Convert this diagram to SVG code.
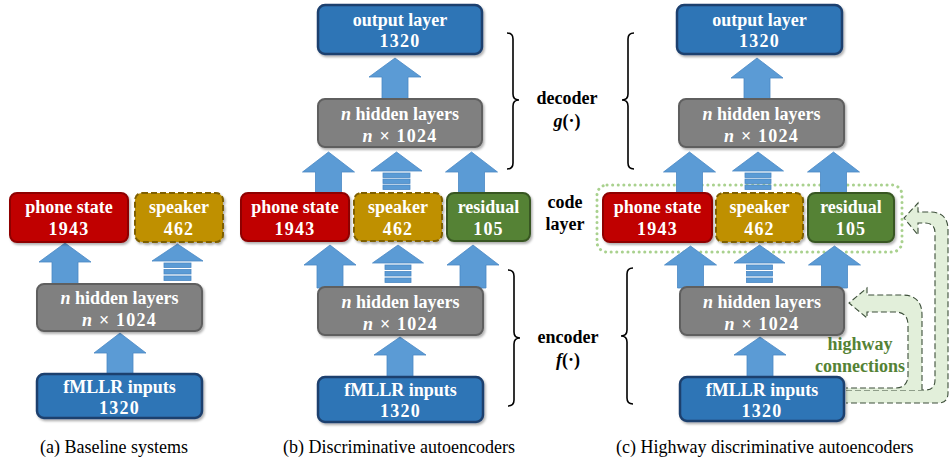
<svg xmlns="http://www.w3.org/2000/svg" width="949" height="463" viewBox="0 0 949 463">
<defs>
<filter id="sh" x="-10%" y="-10%" width="125%" height="130%">
<feDropShadow dx="1.5" dy="2" stdDeviation="1.2" flood-color="#000" flood-opacity="0.3"/>
</filter>
<style>
.t{font-family:"Liberation Serif","Times New Roman",serif;font-weight:bold;font-size:18px;fill:#fff;text-anchor:middle}
.num{letter-spacing:1.2px}
.lbl{font-family:"Liberation Serif","Times New Roman",serif;font-weight:bold;font-size:18px;fill:#000;text-anchor:middle}
.cap{font-family:"Liberation Serif","Times New Roman",serif;font-size:18px;fill:#000}
.hw{font-family:"Liberation Serif","Times New Roman",serif;font-weight:bold;font-size:18px;fill:#548235;text-anchor:middle}
.red{fill:#c00000;stroke:#8e0000;stroke-width:2;filter:url(#sh)}
.gold{fill:#bf9000;stroke:#7f6000;stroke-width:2;stroke-dasharray:6 3;filter:url(#sh)}
.green{fill:#548235;stroke:#385723;stroke-width:2;filter:url(#sh)}
.gray{fill:#808080;stroke:#5f5f5f;stroke-width:2;filter:url(#sh)}
.blue{fill:#2e75b6;stroke:#1f3f6e;stroke-width:2.5;filter:url(#sh)}
.arr{fill:#5b9bd5;stroke:#4a88c4;stroke-width:0.8}
.brace{fill:none;stroke:#000;stroke-width:1.6}
.hwa{fill:#e2efda;stroke:none}
.hwl{fill:none;stroke:#3d4f3a;stroke-width:1.1;stroke-dasharray:6 3}
.dot{fill:none;stroke:#a9d18e;stroke-width:3;stroke-dasharray:0.1 5.5;stroke-linecap:round}
</style>
</defs>

<!-- code layer grouping (c) -->
<g id="c_codebox">
<rect class="dot" x="597" y="185" width="305" height="67" rx="10"/>
</g>

<!-- connectors -->
<g id="connectors">
<!-- (a) -->
<path class="arr" d="M65,243 L91,262 L78,262 L78,285 L52,285 L52,262 L39,262 Z"/>
<g>
<path class="arr" d="M177.5,244 L203,261 L152,261 Z"/>
<rect class="arr" x="164" y="263" width="27" height="4.5"/>
<rect class="arr" x="164" y="269.5" width="27" height="4.5"/>
<rect class="arr" x="164" y="276" width="27" height="4.5"/>
</g>
<path class="arr" d="M120,333 L146,353 L133,353 L133,375 L107,375 L107,353 L94,353 Z"/>
<!-- (b) -->
<path class="arr" d="M395,58 L421,77 L408,77 L408,100 L382,100 L382,77 L369,77 Z"/>
<path class="arr" d="M328.5,152 L354.5,172 L341.5,172 L341.5,194 L315.5,194 L315.5,172 L302.5,172 Z"/>
<g>
<path class="arr" d="M396.5,152 L422,171 L371,171 Z"/>
<rect class="arr" x="383" y="173" width="27" height="4.5"/>
<rect class="arr" x="383" y="179" width="27" height="4.5"/>
<rect class="arr" x="383" y="185" width="27" height="4.5"/>
</g>
<path class="arr" d="M471.5,152 L497.5,172 L484.5,172 L484.5,194 L458.5,194 L458.5,172 L445.5,172 Z"/>
<path class="arr" d="M330,245 L356,265 L343,265 L343,288 L317,288 L317,265 L304,265 Z"/>
<g>
<path class="arr" d="M398,245 L423.5,263 L372.5,263 Z"/>
<rect class="arr" x="385" y="265" width="26" height="4.5"/>
<rect class="arr" x="385" y="271.5" width="26" height="4.5"/>
<rect class="arr" x="385" y="278" width="26" height="4.5"/>
</g>
<path class="arr" d="M473,245 L499,265 L486,265 L486,288 L460,288 L460,265 L447,265 Z"/>
<path class="arr" d="M400,337 L426,355 L413,355 L413,378 L387,378 L387,355 L374,355 Z"/>
<!-- (c) -->
<path class="arr" d="M757,58 L783,78 L770,78 L770,100 L744,100 L744,78 L731,78 Z"/>
<path class="arr" d="M689.5,152 L715.5,172 L702.5,172 L702.5,194 L676.5,194 L676.5,172 L663.5,172 Z"/>
<g>
<path class="arr" d="M758,152 L783.5,171 L732.5,171 Z"/>
<rect class="arr" x="745" y="173" width="26" height="4.5"/>
<rect class="arr" x="745" y="179" width="26" height="4.5"/>
<rect class="arr" x="745" y="185" width="26" height="4.5"/>
</g>
<path class="arr" d="M833.5,152 L859.5,172 L846.5,172 L846.5,194 L820.5,194 L820.5,172 L807.5,172 Z"/>
<path class="arr" d="M690.5,246 L716.5,265 L703.5,265 L703.5,288 L677.5,288 L677.5,265 L664.5,265 Z"/>
<g>
<path class="arr" d="M759.5,245 L785,263 L734,263 Z"/>
<rect class="arr" x="746.5" y="265" width="26" height="4.5"/>
<rect class="arr" x="746.5" y="271.5" width="26" height="4.5"/>
<rect class="arr" x="746.5" y="278" width="26" height="4.5"/>
</g>
<path class="arr" d="M834.5,246 L860.5,265 L847.5,265 L847.5,288 L821.5,288 L821.5,265 L808.5,265 Z"/>
<path class="arr" d="M760,337 L786,355 L773,355 L773,378 L747,378 L747,355 L734,355 Z"/>
<!-- highway connections -->
<g id="highway">
<path class="hwa" d="M846,390 L925,390 Q935,390 935,380 L935,233 Q935,223 925,223 L918,223 L918,235 L904,218 L918,203 L918,212 L930,212 Q948,212 948,230 L948,393 Q948,403 938,403 L846,403 Z"/>
<path class="hwl" d="M846,390 L925,390 Q935,390 935,380 L935,233 Q935,223 925,223 L918,223 L918,235 L904,218 L918,203 L918,212 L930,212 Q948,212 948,230 L948,393 Q948,403 938,403 L846,403"/>
<path class="hwa" d="M846,388 L895,388 Q908,388 908,375 L908,325 Q908,312 895,312 L867,312 L867,318 L849,303 L867,288 L867,295 L902,295 Q922,295 922,315 L922,390 L846,390 Z"/>
<path class="hwl" d="M922,390 L922,315 Q922,295 902,295 L867,295 L867,288 L849,303 L867,318 L867,312 L895,312 Q908,312 908,325 L908,375 Q908,388 895,388 L846,388"/>
</g>
</g>

<!-- braces and labels -->
<g id="b_decoder_brace">
<path class="brace" d="M507,33 Q513,33 513,39 L513,94 Q513,100 519,100 Q513,100 513,106 L513,163 Q513,169 507,169"/>
<text class="lbl" x="567" y="104">decoder</text>
<text class="lbl" x="567" y="127"><tspan font-style="italic">g</tspan>(·)</text>
</g>
<g id="b_encoder_brace">
<path class="brace" d="M508,270 Q514,270 514,276 L514,332 Q514,338 520,338 Q514,338 514,344 L514,400 Q514,406 508,406"/>
<text class="lbl" x="568" y="343">encoder</text>
<text class="lbl" x="568" y="366"><tspan font-style="italic">f</tspan>(·)</text>
</g>
<g id="code_label">
<text class="lbl" x="565" y="208">code</text>
<text class="lbl" x="565" y="230">layer</text>
</g>
<g id="c_decoder_brace">
<path class="brace" d="M634,33 Q628,33 628,39 L628,94 Q628,100 622,100 Q628,100 628,106 L628,163 Q628,169 634,169"/>
</g>
<g id="c_encoder_brace">
<path class="brace" d="M633,268 Q627,268 627,274 L627,330 Q627,336 621,336 Q627,336 627,342 L627,398 Q627,404 633,404"/>
</g>
<g id="highway_label">
<text class="hw" x="860" y="350">highway</text>
<text class="hw" x="860" y="372">connections</text>
</g>

<!-- (a) nodes -->
<g id="a_phone"><rect class="red" x="10" y="193" width="118" height="49" rx="7"/>
<text class="t" x="69" y="213">phone state</text><text class="t num" x="69" y="235">1943</text></g>
<g id="a_speaker"><rect class="gold" x="135" y="193" width="88" height="49" rx="7"/>
<text class="t" x="179" y="213">speaker</text><text class="t num" x="179" y="235">462</text></g>
<g id="a_hidden"><rect class="gray" x="37" y="284" width="165" height="47" rx="7"/>
<text class="t" x="119.5" y="304"><tspan font-style="italic">n</tspan> hidden layers</text><text class="t num" x="119.5" y="326"><tspan font-style="italic">n</tspan> × 1024</text></g>
<g id="a_input"><rect class="blue" x="37" y="374" width="165" height="44" rx="7"/>
<text class="t" x="119.5" y="393">fMLLR inputs</text><text class="t num" x="119.5" y="414">1320</text></g>

<!-- (b) nodes -->
<g id="b_output"><rect class="blue" x="318" y="5" width="164" height="49" rx="7"/>
<text class="t" x="400" y="26">output layer</text><text class="t num" x="400" y="47">1320</text></g>
<g id="b_dec_hidden"><rect class="gray" x="318" y="99" width="164" height="48" rx="7"/>
<text class="t" x="400" y="120"><tspan font-style="italic">n</tspan> hidden layers</text><text class="t num" x="400" y="142"><tspan font-style="italic">n</tspan> × 1024</text></g>
<g id="b_phone"><rect class="red" x="241" y="193" width="108" height="48" rx="7"/>
<text class="t" x="295" y="213">phone state</text><text class="t num" x="295" y="235">1943</text></g>
<g id="b_speaker"><rect class="gold" x="354" y="193" width="88" height="48" rx="7"/>
<text class="t" x="398" y="213">speaker</text><text class="t num" x="398" y="235">462</text></g>
<g id="b_residual"><rect class="green" x="447" y="193" width="83" height="48" rx="7"/>
<text class="t" x="488.5" y="213">residual</text><text class="t num" x="488.5" y="235">105</text></g>
<g id="b_enc_hidden"><rect class="gray" x="318" y="287" width="165" height="48" rx="7"/>
<text class="t" x="400.5" y="308"><tspan font-style="italic">n</tspan> hidden layers</text><text class="t num" x="400.5" y="330"><tspan font-style="italic">n</tspan> × 1024</text></g>
<g id="b_input"><rect class="blue" x="318" y="377" width="165" height="45" rx="7"/>
<text class="t" x="400.5" y="396">fMLLR inputs</text><text class="t num" x="400.5" y="417">1320</text></g>

<!-- (c) nodes -->
<g id="c_output"><rect class="blue" x="677" y="5" width="165" height="49" rx="7"/>
<text class="t" x="759.5" y="26">output layer</text><text class="t num" x="759.5" y="47">1320</text></g>
<g id="c_dec_hidden"><rect class="gray" x="679" y="99" width="165" height="48" rx="7"/>
<text class="t" x="761.5" y="120"><tspan font-style="italic">n</tspan> hidden layers</text><text class="t num" x="761.5" y="142"><tspan font-style="italic">n</tspan> × 1024</text></g>
<g id="c_phone"><rect class="red" x="603" y="193" width="109" height="49" rx="7"/>
<text class="t" x="657.5" y="213">phone state</text><text class="t num" x="657.5" y="235">1943</text></g>
<g id="c_speaker"><rect class="gold" x="716" y="193" width="87" height="49" rx="7"/>
<text class="t" x="759.5" y="213">speaker</text><text class="t num" x="759.5" y="235">462</text></g>
<g id="c_residual"><rect class="green" x="808" y="193" width="86" height="49" rx="7"/>
<text class="t" x="851" y="213">residual</text><text class="t num" x="851" y="235">105</text></g>
<g id="c_enc_hidden"><rect class="gray" x="680" y="287" width="164" height="48" rx="7"/>
<text class="t" x="762" y="308"><tspan font-style="italic">n</tspan> hidden layers</text><text class="t num" x="762" y="330"><tspan font-style="italic">n</tspan> × 1024</text></g>
<g id="c_input"><rect class="blue" x="680" y="377" width="164" height="44" rx="7"/>
<text class="t" x="762" y="396">fMLLR inputs</text><text class="t num" x="762" y="417">1320</text></g>

<!-- captions -->
<text class="cap" x="40" y="453">(a) Baseline systems</text>
<text class="cap" x="283" y="453">(b) Discriminative autoencoders</text>
<text class="cap" x="616" y="453">(c) Highway discriminative autoencoders</text>
</svg>
